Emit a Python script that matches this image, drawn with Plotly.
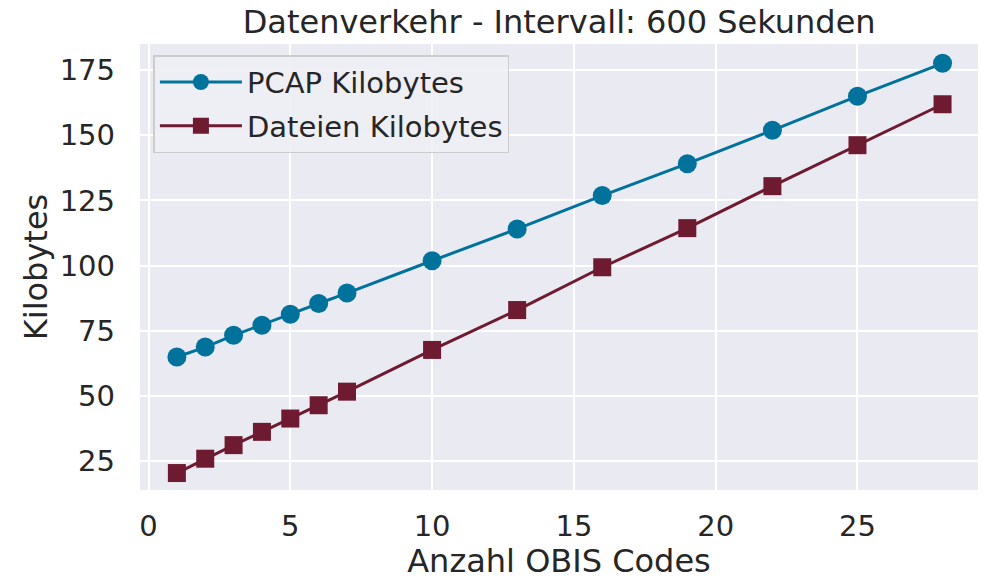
import plotly.graph_objects as go

obis_codes = [1, 2, 3, 4, 5, 6, 7, 10, 13, 16, 19, 22, 25, 28]
pcap_kb = [65.0, 68.8, 73.3, 77.2, 81.4, 85.5, 89.5, 101.9, 114.1, 126.9, 139.1, 151.9, 165.0, 177.6]
dateien_kb = [20.5, 26.0, 31.2, 36.3, 41.4, 46.5, 51.7, 67.7, 83.0, 99.4, 114.4, 130.5, 146.2, 161.9]

x_ticks = [0, 5, 10, 15, 20, 25]
y_ticks = [25, 50, 75, 100, 125, 150, 175]

TXT = "#262626"
FONT = "DejaVu Sans, Verdana, sans-serif"

fig = go.Figure()
fig.add_trace(go.Scatter(
    x=obis_codes, y=pcap_kb, name="PCAP Kilobytes", mode="lines+markers",
    legendgroup="a",
    line=dict(color="#00729C", width=3),
    marker=dict(symbol="circle", size=19, color="#00729C"),
))
fig.add_trace(go.Scatter(
    x=obis_codes, y=dateien_kb, name="Dateien Kilobytes", mode="lines+markers",
    legendgroup="b",
    line=dict(color="#6E1A30", width=3),
    marker=dict(symbol="square", size=18, color="#6E1A30"),
))

fig.update_layout(
    width=987, height=580,
    margin=dict(l=140, r=9, t=44, b=90, autoexpand=False),
    paper_bgcolor="white",
    plot_bgcolor="#EAEAF2",
    font=dict(family=FONT, color=TXT, size=29),
    title=dict(text="Datenverkehr - Intervall: 600 Sekunden", x=0.5665, xanchor="center",
               y=0.962, yanchor="middle", font=dict(size=32, color=TXT)),
    showlegend=True,
    legend=dict(x=0.016, y=0.975, xanchor="left", yanchor="top",
                bgcolor="rgba(238,238,245,0.9)", bordercolor="#CCCCCC", borderwidth=1.5,
                font=dict(size=29, color=TXT), itemwidth=82, tracegroupgap=3),
)
fig.update_xaxes(
    range=[-0.3, 29.25], tickvals=x_ticks, showgrid=True, gridcolor="white", gridwidth=1.5,
    zeroline=False, showline=False, ticks="", ticklabelstandoff=16, automargin=False,
    title=dict(text="Anzahl OBIS Codes", font=dict(size=32, color=TXT), standoff=3),
    tickfont=dict(size=29),
)
fig.update_yaxes(
    range=[14.0, 185.0], tickvals=y_ticks, showgrid=True, gridcolor="white", gridwidth=1.5,
    zeroline=False, showline=False, ticks="", ticklabelstandoff=24, automargin=False,
    title=dict(text="Kilobytes", font=dict(size=32, color=TXT), standoff=2),
    tickfont=dict(size=29),
)

fig.write_html("out.html", config={"displayModeBar": False},
               post_script="document.body.style.margin='0';")
